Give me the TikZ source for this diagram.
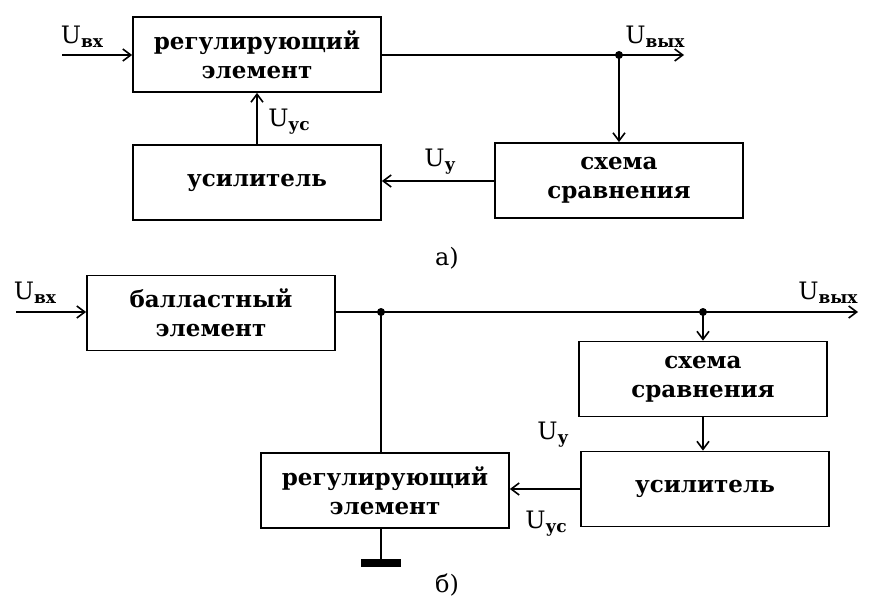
\documentclass[tikz,border=0pt]{standalone}
\usepackage{fontspec}
\setmainfont{DejaVu Serif}
\usetikzlibrary{positioning, arrows.meta, calc}
\tikzstyle{block}=[rectangle, draw=black, line width=1.8pt, minimum width=248pt,
minimum height=75pt, align=center, inner sep=2pt,
font=\fontsize{23}{29}\selectfont\bfseries]
\tikzstyle{arrow}=[->, line width=1.6pt, >={Straight Barb[length=8pt,width=12pt]}, draw=black]
\tikzstyle{wire}=[line width=1.6pt, draw=black]
\tikzstyle{sig}=[inner sep=0pt, font=\fontsize{24}{28}\selectfont]
\tikzstyle{junction}=[circle, fill=black, inner sep=0pt, minimum size=8pt]
\newcommand{\sigU}[1]{U\raisebox{-0.3ex}{\fontsize{17}{17}\selectfont\bfseries #1}}

\begin{document}
\begin{tikzpicture}[x=1pt, y=-1pt]
  \useasboundingbox (0,0) rectangle (870,610);
  % a)
  \node(regA) [block] at (257,54.5) {регулирующий\\элемент};
  \node(ampA) [block] at (257,182.5) {усилитель};
  \node(cmpA) [block] at (619,180.5) {схема\\сравнения};
  \coordinate(inA) at (62,55);
  \coordinate(outA) at (684,55);
  \node(dotA) [junction] at (cmpA.north |- inA) {};
  \draw [arrow] (inA) -- (regA.west |- inA);
  \draw [arrow] (regA.east |- inA) -- (outA);
  \draw [arrow] (dotA.center) -- (cmpA.north);
  \draw [arrow] (cmpA.west |- 0,181) -- (ampA.east |- 0,181);
  \draw [arrow] (ampA.north) -- (regA.south);
  \node [sig] at (82,37) {\sigU{вх}};
  \node [sig] at (655,37) {\sigU{вых}};
  \node [sig] at (440,162) {\sigU{у}};
  \node [sig] at (289,122) {\sigU{ус}};
  \node [sig] at (447,258) {а)};
  % б)
  \node(balB) [block] at (211,313) {балластный\\элемент};
  \node(regB) [block] at (385,490.5) {регулирующий\\элемент};
  \node(cmpB) [block] at (703,379) {схема\\сравнения};
  \node(ampB) [block] at (705,489) {усилитель};
  \coordinate(inB) at (16,312);
  \coordinate(outB) at (858,312);
  \coordinate(gndB) at (381,559);
  \node(dotB1) [junction] at (381,312) {};
  \node(dotB2) [junction] at (cmpB.north |- inB) {};
  \draw [arrow] (inB) -- (balB.west |- inB);
  \draw [arrow] (balB.east |- inB) -- (outB);
  \draw [wire] (dotB1.center) -- (dotB1.center |- regB.north);
  \draw [wire] (dotB1.center |- regB.south) -- (gndB);
  \fill [black] ($(gndB)+(-20,0)$) rectangle ($(gndB)+(20,8)$);
  \draw [arrow] (dotB2.center) -- (cmpB.north);
  \draw [arrow] (cmpB.south) -- (cmpB.south |- ampB.north);
  \draw [arrow] (ampB.west) -- (ampB.west -| regB.east);
  \node [sig] at (35,293) {\sigU{вх}};
  \node [sig] at (828,293) {\sigU{вых}};
  \node [sig] at (553,435) {\sigU{у}};
  \node [sig] at (546,524) {\sigU{ус}};
  \node [sig] at (447,585) {б)};
\end{tikzpicture}
\end{document}
